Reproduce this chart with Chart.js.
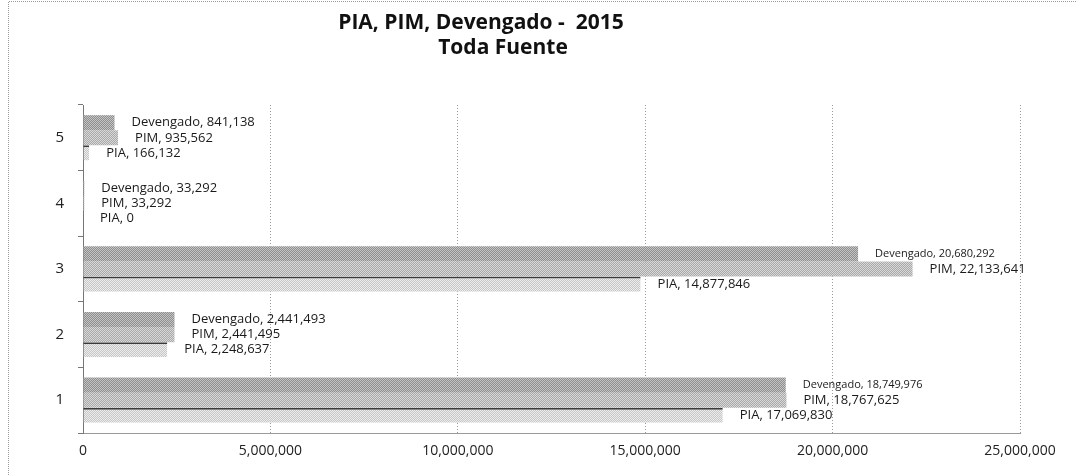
<!DOCTYPE html>
<html>
<head>
<meta charset="utf-8">
<script src="https://cdn.jsdelivr.net/npm/chart.js@4.4.1/dist/chart.umd.min.js"></script>
<style>
 html,body{margin:0;padding:0;background:#fff;}
 #wrap{width:1077px;height:475px;position:relative;}
</style>
</head>
<body>
<div id="wrap"><canvas id="chart" width="1077" height="475"></canvas></div>
<script>
// categories (1 at the bottom)
const categories=['1','2','3','4','5'];
const devengado=[18749976,2441493,20680292,33292,841138];
const pim=[18767625,2441495,22133641,33292,935562];
const pia=[17069830,2248637,14877846,0,166132];
const xTicks=[0,5000000,10000000,15000000,20000000,25000000];
const titleLines=['PIA, PIM, Devengado -  2015','Toda Fuente'];

function checker(a,b){
 const c=document.createElement('canvas');
 c.width=2;c.height=2;
 const g=c.getContext('2d');
 g.fillStyle=a;g.fillRect(0,0,2,2);
 g.fillStyle=b;g.fillRect(0,0,1,1);g.fillRect(1,1,1,1);
 return g.createPattern(c,'repeat');
}

const fmt=v=>v.toLocaleString('en-US');

// value labels: "Serie, value" right of each bar
const labelPlugin={
 id:'barLabels',
 afterDatasetsDraw(chart){
  const ctx=chart.ctx;
  ctx.save();
  ctx.fillStyle='#1a1a1a';
  ctx.textBaseline='middle';
  ctx.textAlign='left';
  chart.data.datasets.forEach((ds,di)=>{
   const meta=chart.getDatasetMeta(di);
   meta.data.forEach((bar,i)=>{
    const v=ds.data[i];
    const small=ds.label==='Devengado' && v>10000000;
    ctx.font=(small?'11px':'13px')+' "Open Sans", sans-serif';
    ctx.fillText(ds.label+', '+fmt(v),bar.x+17,bar.y);
   });
  });
  ctx.restore();
 }
};

// title and the scanned frame lines
const framePlugin={
 id:'frame',
 beforeDraw(chart){
  const ctx=chart.ctx;
  ctx.save();
  ctx.strokeStyle='#9a9a9a';
  ctx.lineWidth=1;
  ctx.setLineDash([1,1]);
  ctx.beginPath();
  ctx.moveTo(8.5,475);ctx.lineTo(8.5,1.5);ctx.lineTo(1077,1.5);
  ctx.stroke();
  ctx.restore();
 },
 afterDraw(chart){
  const ctx=chart.ctx;
  ctx.save();
  ctx.fillStyle='#111';
  ctx.font='bold 21px "Open Sans", sans-serif';
  ctx.textAlign='center';
  ctx.textBaseline='middle';
  ctx.fillText(titleLines[0],481,23);
  ctx.fillText(titleLines[1],503,48);
  ctx.restore();
 }
};

new Chart(document.getElementById('chart'),{
 type:'bar',
 data:{
  labels:categories,
  datasets:[
   {label:'Devengado',data:devengado,backgroundColor:checker('#8e8e8e','#c4c4c4'),borderWidth:0},
   {label:'PIM',data:pim,backgroundColor:checker('#a9a9a9','#d8d8d8'),borderWidth:0},
   {label:'PIA',data:pia,backgroundColor:checker('#c6c6c6','#ededed'),borderColor:'#3a3a3a',borderWidth:{top:2,left:0,right:0,bottom:0},borderSkipped:false}
  ]
 },
 options:{
  indexAxis:'y',
  responsive:false,
  animation:false,
  layout:{padding:{top:105,right:57,left:0,bottom:0}},
  categoryPercentage:0.69,
  barPercentage:1,
  plugins:{legend:{display:false},tooltip:{enabled:false},title:{display:false}},
  scales:{
   x:{
    min:0,max:25000000,
    afterBuildTicks:s=>{s.ticks=xTicks.map(v=>({value:v}));},
    afterFit:s=>{s.height=42;},
    ticks:{callback:v=>fmt(v),color:'#222',font:{family:'"Open Sans"',size:14},padding:10,maxRotation:0},
    grid:{color:'#9a9a9a',drawTicks:false,tickBorderDash:[1,2]},
    border:{color:'#9a9a9a',dash:[1,2]}
   },
   y:{
    reverse:true,
    afterFit:s=>{s.width=83;},
    ticks:{color:'#222',font:{family:'"Open Sans"',size:15},padding:14},
    grid:{drawOnChartArea:false,drawTicks:true,tickLength:5,color:'#777',offset:true},
    border:{color:'#777',width:1}
   }
  }
 },
 plugins:[labelPlugin,framePlugin]
});
</script>
</body>
</html>
